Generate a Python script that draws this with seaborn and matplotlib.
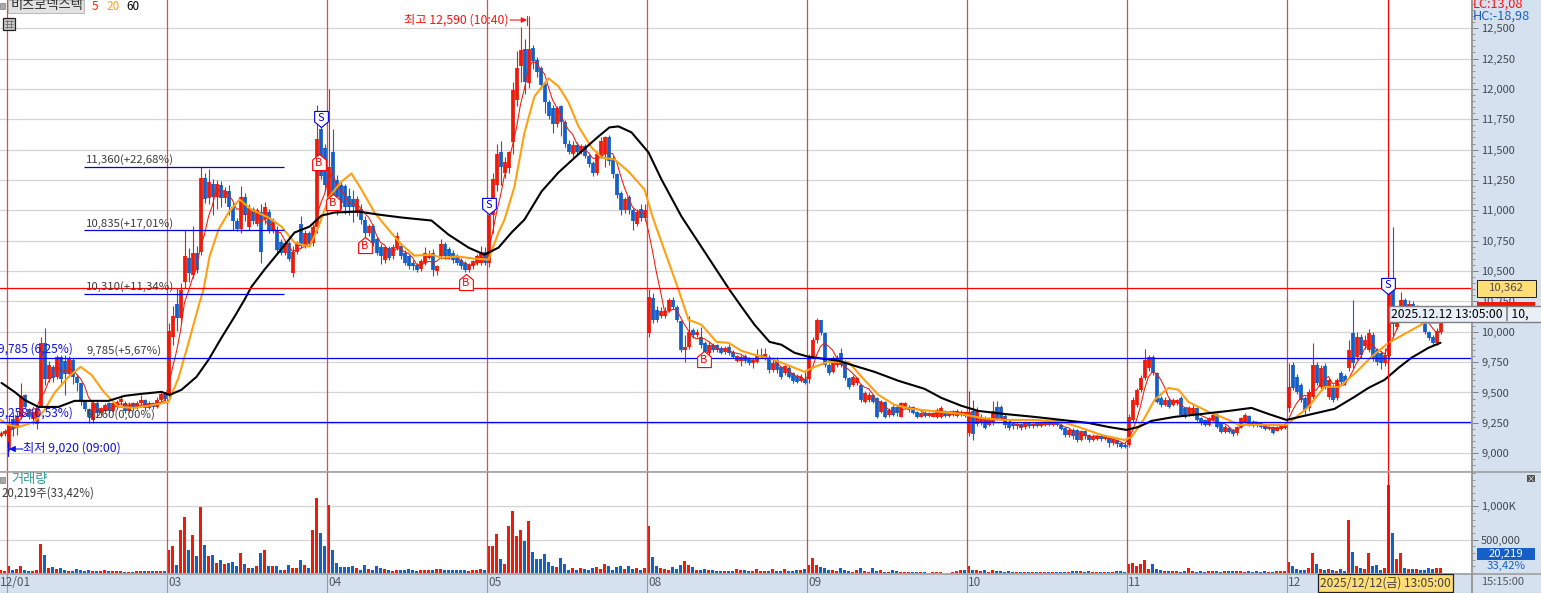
import numpy as np
import pandas as pd
import seaborn as sns
import matplotlib.pyplot as plt
from matplotlib.patches import Rectangle
from matplotlib.ticker import FuncFormatter, MultipleLocator

# values, one slot = 4 px, 40 slots per trading day
pre_open = [9130, 9150]
pre_close = [9150, 9170]
pre_high = [9170, 9190]
pre_low = [9120, 9130]
pre_vol = [50, 25]

# 12/01
d1_open = [9030,9270,9200,9290,9470,9350,9270,9230,9380,9900, 9600,9700,9620,9780,9750,9640,9760,9620,9570,9420, 9350,9260,9400,9320,9340,9400,9340,9370,9410,9400, 9340,9400,9360,9400,9430,9360,9400,9370,9430,9480]
d1_close = [9230,9190,9300,9460,9370,9290,9330,9350,9900,9600, 9720,9610,9780,9600,9640,9770,9620,9570,9420,9350, 9290,9400,9320,9360,9390,9340,9400,9410,9440,9340, 9390,9360,9400,9430,9360,9400,9370,9430,9480,9440]
d1_high = [9290,9330,9330,9570,9480,9360,9340,9360,9950,10020, 9750,9720,9800,9800,9800,9790,9770,9640,9440,9430, 9360,9420,9420,9370,9400,9410,9420,9430,9470,9420, 9410,9410,9420,9470,9440,9420,9410,9450,9500,9490]
d1_low = [9010,9130,9140,9270,9360,9270,9230,9190,9370,9550, 9580,9580,9600,9570,9470,9620,9560,9500,9390,9340, 9240,9240,9300,9290,9320,9320,9330,9350,9390,9320, 9330,9340,9350,9390,9340,9350,9350,9360,9420,9420]
d1_vol = [100,50,60,100,40,25,25,40,440,275, 75,85,60,75,40,25,35,60,40,35, 40,25,25,35,40,25,25,35,25,20, 20,20,30,25,25,25,25,30,30,30]

# 12/03
d2_open = [9470,9950,10220,10100,10400,10600,10460,10640,10650,11260, 11090,11210,11100,11200,11090,11150,11020,10900,10840,11100, 10850,11000,10880,10980,10920,10980,10820,10830,10730,10640, 10720,10470,10650,10880,10700,10800,10720,10850,11660,11500]
d2_close = [10000,10120,10100,10330,10610,10470,10640,10500,11260,11080, 11220,11100,11210,11090,11150,11020,10900,10840,11100,10950, 11010,10900,10990,10650,11020,10820,10900,10660,10640,10720, 10590,10650,10720,10700,10800,10720,10850,11580,11270,11200]
d2_high = [10060,10200,10350,10390,10830,10680,10860,10700,11350,11300, 11330,11250,11240,11230,11180,11200,11050,10930,11190,11130, 11040,11020,11010,11040,11060,11000,10930,10860,10750,10740, 10740,10700,10740,10940,10830,10820,10880,11860,11700,11540]
d2_low = [9430,9880,10000,10050,10350,10400,10430,10470,10620,11050, 11040,10950,11000,11020,11050,10950,10830,10820,10800,10900, 10830,10880,10860,10560,10880,10800,10800,10640,10620,10620, 10570,10440,10630,10680,10680,10700,10700,10800,11250,11150]
d2_vol = [350,410,125,640,840,350,575,250,990,425, 260,275,150,190,140,150,165,100,300,140, 75,75,100,300,350,100,110,110,40,50, 125,75,75,190,115,75,640,1125,600,410]

# 12/04
d3_open = [11100,11470,11240,11200,11190,11110,11080,10970,11000,10910, 10800,10860,10750,10690,10580,10680,10610,10680,10700,10640, 10610,10560,10540,10510,10560,10600,10640,10490,10610,10710, 10670,10640,10610,10580,10560,10500,10530,10560,10560,10650]
d3_close = [11350,11090,11100,11050,11020,11020,11020,11080,10910,10800, 10860,10720,10640,10610,10690,10600,10690,10780,10610,10560, 10530,10530,10500,10570,10640,10610,10500,10530,10710,10610, 10610,10580,10560,10530,10500,10540,10570,10610,10650,10560]
d3_high = [11990,11660,11280,11230,11210,11170,11160,11110,11040,10940, 10880,10880,10770,10710,10700,10700,10710,10810,10720,10660, 10620,10580,10560,10590,10690,10660,10670,10540,10750,10730, 10690,10660,10630,10600,10570,10560,10580,10630,10700,10690]
d3_low = [11050,11000,10950,11000,10960,10950,10890,10940,10880,10770, 10780,10700,10620,10550,10560,10580,10590,10660,10590,10540, 10510,10500,10480,10490,10540,10590,10450,10460,10590,10590, 10590,10560,10540,10510,10480,10480,10510,10540,10540,10540]
d3_vol = [1025,340,150,85,85,85,110,75,50,125, 60,50,100,75,60,40,35,40,40,40, 60,40,35,40,40,40,50,60,60,40, 40,40,40,50,50,35,40,50,60,40]

# 12/05
d4_open = [10560,10950,11200,11470,11300,11340,11550,11900,12180,12320, 12040,12330,12230,12160,12030,11880,11830,11700,11850,11720, 11540,11450,11530,11470,11520,11440,11380,11300,11440,11450, 11590,11420,11290,11130,10990,11100,10990,10880,11000,10930]
d4_close = [10950,11250,11450,11350,11390,11470,11980,12160,12310,12050, 12320,12220,12130,12020,11880,11770,11700,11830,11720,11540, 11470,11530,11470,11520,11440,11370,11300,11450,11560,11590, 11400,11290,11120,10990,11080,10990,10900,10980,10930,10990]
d4_high = [11000,11300,11540,11560,11430,11480,12050,12300,12500,12400, 12590,12350,12250,12180,12050,11900,11860,11850,11860,11730, 11570,11560,11550,11540,11540,11450,11400,11480,11590,11600, 11610,11440,11300,11150,11100,11120,11010,11000,11040,11040]
d4_low = [10520,10800,11150,11200,11260,11300,11450,11850,12050,11950, 12000,12150,12090,11990,11790,11740,11630,11680,11600,11510, 11450,11430,11450,11450,11420,11350,11270,11280,11420,11350, 11360,11260,11090,10950,10970,10960,10830,10860,10900,10900]
d4_vol = [400,400,580,215,130,700,925,550,640,475, 775,310,205,210,280,160,100,90,220,140, 50,70,50,70,55,50,70,85,55,130, 110,40,85,100,55,110,55,70,40,70]

# 12/08
d5_open = [9980,10267,10170,10120,10121,10165,10253,10198,10075,9841, 9868,10006,9965,9951,9896,9813,9880,9880,9860,9827, 9863,9827,9753,9753,9791,9772,9731,9745,9786,9772, 9786,9676,9758,9698,9648,9690,9648,9626,9588,9599]
d5_close = [10280,10089,10090,10165,10165,10253,10198,10089,9841,9868, 9992,9965,9992,9882,9827,9882,9840,9840,9819,9855, 9813,9786,9791,9786,9753,9736,9758,9800,9800,9810, 9676,9736,9676,9621,9709,9621,9588,9580,9616,9571]
d5_high = [10340,10310,10200,10190,10190,10270,10280,10210,10090,9960, 10116,10020,10010,10033,9910,9910,9900,9890,9870,9870, 9890,9840,9800,9800,9810,9785,9770,9850,9860,9860, 9800,9780,9780,9710,9720,9710,9660,9640,9640,9660]
d5_low = [9950,10060,10070,10100,10100,10150,10180,10070,9820,9745, 9850,9940,9950,9860,9800,9790,9820,9820,9810,9810, 9800,9770,9740,9710,9730,9720,9690,9730,9770,9760, 9650,9660,9650,9600,9630,9610,9570,9570,9580,9560]
d5_vol = [700,235,100,70,55,40,85,55,115,175, 115,85,40,40,55,40,40,25,25,25, 25,25,55,40,40,25,25,55,25,25, 25,55,25,25,55,25,25,40,40,55]

# 12/09
d6_open = [9600,9786,9924,10083,9979,9717,9662,9717,9814,9745, 9607,9552,9567,9552,9415,9429,9470,9442,9332,9415, 9305,9374,9374,9291,9368,9346,9368,9332,9291,9324, 9297,9291,9286,9291,9332,9297,9305,9297,9305,9319]
d6_close = [9786,9924,10083,9979,9717,9648,9772,9772,9717,9607, 9533,9616,9607,9429,9483,9470,9415,9291,9415,9291, 9346,9305,9319,9401,9401,9374,9319,9291,9319,9297, 9324,9319,9346,9360,9297,9324,9332,9341,9332,9297]
d6_high = [9810,9950,10100,10090,9990,9730,9790,9800,9860,9760, 9620,9630,9620,9560,9500,9490,9480,9450,9430,9420, 9360,9390,9385,9410,9410,9385,9380,9340,9330,9335, 9330,9330,9360,9375,9345,9335,9345,9350,9345,9330]
d6_low = [9570,9770,9900,9960,9700,9630,9650,9700,9700,9590, 9520,9540,9550,9410,9400,9410,9400,9280,9320,9280, 9290,9295,9300,9285,9350,9330,9310,9280,9285,9285, 9285,9285,9280,9280,9290,9290,9295,9290,9295,9285]
d6_vol = [115,220,115,85,70,40,40,25,70,40, 25,15,40,70,25,15,70,25,40,15, 15,40,25,10,10,20,20,10,20,10, 5,20,20,15,5,5,15,25,40,40]

# 12/10
d7_open = [9160,9340,9230,9240,9270,9225,9240,9370,9370,9300, 9250,9230,9210,9230,9205,9240,9215,9240,9215,9225, 9245,9225,9260,9225,9195,9140,9185,9180,9100,9175, 9140,9100,9110,9135,9105,9115,9075,9100,9070,9060]
d7_close = [9330,9150,9340,9290,9200,9270,9340,9270,9280,9220, 9200,9210,9230,9200,9240,9210,9230,9215,9240,9245, 9225,9255,9225,9190,9140,9185,9130,9100,9170,9130, 9100,9135,9130,9105,9130,9075,9105,9065,9045,9040]
d7_high = [9500,9430,9370,9310,9300,9290,9420,9420,9390,9310, 9260,9240,9250,9240,9250,9250,9250,9250,9255,9260, 9255,9270,9270,9235,9205,9195,9195,9190,9180,9185, 9150,9145,9140,9145,9140,9125,9115,9110,9085,9070]
d7_low = [9130,9100,9210,9220,9190,9210,9220,9260,9260,9200, 9180,9190,9190,9180,9190,9200,9200,9205,9205,9215, 9215,9215,9215,9180,9120,9125,9110,9080,9090,9110, 9085,9090,9095,9090,9095,9040,9060,9040,9030,9030]
d7_vol = [100,50,40,25,40,10,40,25,25,20, 25,20,15,10,15,15,10,10,15,10, 10,10,10,15,10,10,25,25,25,20, 25,20,15,15,20,15,20,25,30,20]

# 12/11
d8_open = [9058,9264,9388,9511,9608,9690,9786,9649,9443,9388, 9429,9388,9402,9443,9360,9313,9305,9360,9278,9264, 9223,9264,9305,9236,9168,9195,9182,9154,9209,9250, 9297,9250,9242,9236,9223,9187,9203,9176,9187,9195]
d8_close = [9291,9429,9511,9608,9759,9786,9649,9415,9388,9429, 9374,9429,9429,9305,9292,9360,9360,9264,9236,9223, 9278,9305,9209,9168,9209,9168,9148,9209,9278,9305, 9223,9214,9214,9203,9187,9209,9160,9203,9214,9223]
d8_high = [9310,9450,9530,9630,9847,9800,9800,9660,9460,9450, 9445,9445,9440,9460,9370,9375,9385,9370,9285,9275, 9285,9315,9320,9245,9220,9205,9190,9215,9285,9320, 9305,9260,9250,9245,9230,9215,9210,9210,9220,9235]
d8_low = [9045,9250,9370,9495,9590,9670,9630,9400,9370,9375, 9360,9375,9390,9295,9280,9300,9295,9255,9225,9215, 9215,9255,9200,9155,9155,9160,9135,9140,9200,9240, 9215,9205,9205,9195,9180,9180,9150,9170,9180,9190]
d8_vol = [130,145,100,130,190,55,130,55,40,25, 25,25,25,10,25,70,25,10,25,15, 25,25,25,10,25,25,25,25,25,15, 25,10,25,15,25,10,10,25,25,25]

# 12/12, stops at 13:05
d9_open = [9360,9718,9621,9553,9443,9360,9456,9718,9539,9704, 9456,9539,9443,9649,9622,9690,9979,9786,9951,9870, 9840,9965,9841,9814,9731,9790,10380,10030,10120,10250, 10100,10220,10120,10180,10064,9990,9950,9900,9990]
d9_close = [9539,9525,9498,9429,9347,9498,9718,9566,9690,9539, 9594,9429,9594,9580,9566,9841,9731,9951,9800,9925, 9979,9773,9745,9731,9800,10320,10050,10130,10250,10100, 10220,10120,10190,10080,9990,9940,9900,10000,10110]
d9_high = [9731,9740,9640,9570,9460,9520,9896,9740,9720,9730, 9610,9560,9610,9670,9640,9925,10254,9990,9970,9960, 10010,9990,9860,9830,9860,10380,10850,10180,10320,10270, 10254,10240,10210,10200,10080,10000,9960,10020,10130]
d9_low = [9330,9510,9480,9410,9310,9340,9440,9550,9520,9520, 9440,9410,9425,9560,9550,9670,9690,9760,9770,9850, 9820,9750,9720,9680,9710,9760,9950,10010,10100,10080, 10080,10100,10100,10060,9970,9920,9880,9880,9970]
d9_vol = [165,100,65,50,50,70,295,140,55,50, 55,40,25,55,30,790,310,110,80,55, 295,100,115,50,80,1315,595,205,295,80, 55,55,55,40,40,70,55,70,70]

# moving averages read as points along the curves (slot number, price)
ma20_slot = [-2,0,2.5,6.5,9,11.5,15,18,20.75,24,27.5,31.5,35,40,42.5,45,47.75,48.75,50.25,52.5,55,57.75,60.75,65,68.25,71.5,75.25,77.5,80.25,83.25,85.75,88.25,91.5,95,98.25,101.5,105.75,108.25,112.5,116.5,120,122.5,124,126.5,129,131.5,135,137.5,140,142.5,145.75,148.25,151.5,155,159,161.25,167.5,170,173.25,177,180,183.25,186.5,190.75,194,199,201.5,205,210,213.25,217.5,221.5,225.75,230.75,238.25,243.25,248.25,256.5,263.25,267.5,273.25,279,280.75,283.75,286.5,290,292.5,295,300,305,307.5,313.25,319.5,325,329,332.75,337,340.75,345,350,354,357.75]
ma20_price = [9264,9223,9206,9248,9346,9487,9619,9701,9635,9487,9371,9363,9380,9412,9610,9899,10229,10336,10609,10831,10972,11079,10996,10930,10856,10724,10691,10856,11104,11227,11293,11161,10972,10831,10708,10617,10625,10600,10609,10592,10584,10807,10914,11186,11632,11929,12077,12011,11879,11681,11508,11425,11409,11310,11161,10914,10336,10089,10048,9907,9899,9833,9800,9767,9726,9660,9701,9742,9742,9619,9470,9388,9355,9338,9313,9280,9264,9264,9248,9206,9140,9099,9124,9264,9429,9528,9512,9412,9330,9264,9223,9223,9223,9371,9536,9536,9660,9784,9899,9990,10064,10064]
ma60_slot = [-1.75,1.5,4,7.5,12.5,16.5,25,29,33.25,38.25,40.25,43.25,47,50,53.25,56.5,59,60.75,64,67.5,71.5,75.25,78.25,81.5,87.5,92.5,98.25,105.75,110,115,119,122.5,125.75,129,133.25,137.5,143.25,147.5,150.25,152.5,155.75,160,163.25,168.25,180.25,183.25,186.5,190.25,193.25,196.5,200,207.5,211.5,216.5,222.5,229,233.25,238.25,242.5,249,256.5,263.25,270,275,279.5,282.5,285.75,291.5,298.25,305,310.75,315,319.5,331.5,336.5,340,344,347.5,350.75,355,358]
ma60_price = [9569,9495,9429,9371,9371,9421,9421,9462,9479,9495,9470,9512,9619,9759,9941,10114,10254,10361,10502,10642,10807,10856,10947,10972,10980,10955,10931,10906,10790,10683,10625,10683,10807,10914,11145,11302,11475,11599,11673,11681,11632,11467,11244,10939,10336,10196,10048,9907,9883,9817,9784,9751,9710,9660,9586,9520,9445,9380,9338,9313,9289,9264,9239,9206,9182,9206,9256,9289,9313,9338,9363,9313,9264,9355,9454,9528,9594,9693,9776,9858,9899]

day_starts = [0, 40, 80, 120, 160, 200, 240, 280, 320]
day_labels = ['12/01', '03', '04', '05', '08', '09', '10', '11', '12']
level_prices = [11360, 10835, 10310]
level_labels = ['11,360(+22,68%)', '10,835(+17,01%)', '10,310(+11,34%)']
full_levels = [9785, 9260]
cross_price = 10362
cross_slot = 344.75
buy_slots = [77.5, 81, 89, 114.25, 173.75]
buy_prices = [11401, 11071, 10716, 10411, 9776]
sell_slots = [78, 120, 344.75]
sell_prices = [11756, 11038, 10378]

RED = '#ee1a0a'
BLUE = '#1560c8'
PANEL = '#d5e1ef'
W, H = 1541, 593

sns.set_theme(style='white')
plt.rcParams['font.family'] = ['Noto Sans CJK KR', 'DejaVu Sans']

opens = np.array(pre_open + d1_open + d2_open + d3_open + d4_open + d5_open + d6_open + d7_open + d8_open + d9_open) + 10
closes = np.array(pre_close + d1_close + d2_close + d3_close + d4_close + d5_close + d6_close + d7_close + d8_close + d9_close) + 10
highs = np.array(pre_high + d1_high + d2_high + d3_high + d4_high + d5_high + d6_high + d7_high + d8_high + d9_high) + 10
lows = np.array(pre_low + d1_low + d2_low + d3_low + d4_low + d5_low + d6_low + d7_low + d8_low + d9_low) + 10
volumes = pre_vol + d1_vol + d2_vol + d3_vol + d4_vol + d5_vol + d6_vol + d7_vol + d8_vol + d9_vol
slots = np.arange(-2, len(opens) - 2)

df = pd.DataFrame({'slot': slots, 'open': opens, 'close': closes, 'high': highs, 'low': lows,
                   'volume': np.array(volumes) * 1000})
df['up'] = df['close'] >= df['open']
df['color'] = df['up'].map({True: RED, False: BLUE})
# the 5 line is the plain moving average of the closes
df['ma5'] = df['close'].rolling(5, min_periods=1).mean()

fig = plt.figure(figsize=(W / 100, H / 100), dpi=100, facecolor=PANEL)

def box(x0, y0, x1, y1):
    return [x0 / W, 1 - y1 / H, (x1 - x0) / W, (y1 - y0) / H]

x_lim = ((0 - 8.5) / 4, (1472 - 8.5) / 4)

# price panel
ax = fig.add_axes(box(0, 0, 1472, 471), facecolor='white')
ax.vlines(df['slot'], df['low'], df['high'], colors=df['color'], lw=0.8, zorder=3)
ax.vlines(df['slot'], df['open'], df['close'], colors=df['color'], lw=2.7, zorder=3.1)
sns.lineplot(data=df, x='slot', y='ma5', color=RED, lw=0.75, errorbar=None, ax=ax, zorder=4)
sns.lineplot(x=ma20_slot, y=np.array(ma20_price) + 10, color='#ffa010', lw=1.5, errorbar=None, sort=False, ax=ax, zorder=4.2)
sns.lineplot(x=ma60_slot, y=np.array(ma60_price) + 10, color='black', lw=1.5, errorbar=None, sort=False, ax=ax, zorder=4.4)

for i, d in enumerate(day_starts):
    ax.axvline(d - 0.3, color='#e24a4a' if i < 5 else '#c44e50', lw=0.9, zorder=2)
ax.axvline(cross_slot, color='#ff0000', lw=0.9, zorder=5)
ax.axhline(cross_price, color='#ff0000', lw=0.9, zorder=5)
for p in full_levels:
    ax.axhline(p, color='#0000f0', lw=0.9, zorder=5)
ax.hlines(level_prices, (84 - 8.5) / 4, (284 - 8.5) / 4, color='#0000d8', lw=0.9, zorder=5)

# signal markers
down_tag = [(-0.85, 1), (0.85, 1), (0.85, -0.3), (0, -1), (-0.85, -0.3), (-0.85, 1)]
up_tag = [(-0.85, -1), (0.85, -1), (0.85, 0.3), (0, 1), (-0.85, 0.3), (-0.85, -1)]
ax.scatter(sell_slots, sell_prices, marker=down_tag, s=135, facecolor='white', edgecolor='#0000e0', lw=0.8, zorder=6)
ax.scatter(buy_slots, buy_prices, marker=up_tag, s=135, facecolor='white', edgecolor='#ff0000', lw=0.8, zorder=6)
for sx, sy in zip(sell_slots, sell_prices):
    ax.text(sx, sy + 8, 'S', color='#0000e0', fontsize=8, ha='center', va='center', zorder=7)
for bx, by in zip(buy_slots, buy_prices):
    ax.text(bx, by - 8, 'B', color='#ff0000', fontsize=8, ha='center', va='center', zorder=7)

ax.set_xlim(x_lim)
ax.set_ylim(9000 - 17.8 * 8.235, 9000 + 453.2 * 8.235)
ax.yaxis.tick_right()
ax.yaxis.set_major_locator(MultipleLocator(250))
ax.yaxis.set_minor_locator(MultipleLocator(50))
ax.yaxis.set_major_formatter(FuncFormatter(lambda v, _: f'{int(v):,}'))
ax.tick_params(axis='y', which='major', right=True, length=4.5, width=0.7, color='#808080', labelsize=8, labelcolor='#404850', pad=2)
ax.tick_params(axis='y', which='minor', right=True, length=2, width=0.7, color='#909090')
ax.grid(axis='y', which='major', color='#d4d4d4', lw=0.9, zorder=1)
ax.set_axisbelow(True)
ax.set_xticks([])
ax.set_xlabel('')
ax.set_ylabel('')
for s in ax.spines.values():
    s.set_visible(False)

# volume panel
ax2 = fig.add_axes(box(0, 472, 1472, 573), facecolor='white')
sns.barplot(data=df, x='slot', y='volume', hue='up', palette={True: RED, False: BLUE}, native_scale=True,
            dodge=False, width=0.85, saturation=1, errorbar=None, legend=False, linewidth=0, ax=ax2, zorder=3)
for i, d in enumerate(day_starts):
    ax2.axvline(d - 0.3, color='#e24a4a' if i < 5 else '#c44e50', lw=0.9, zorder=4)
ax2.axvline(cross_slot, color='#ff0000', lw=0.9, zorder=5)
ax2.set_xlim(x_lim)
ax2.set_ylim(0, 101 * 15000)
ax2.yaxis.tick_right()
ax2.set_yticks([500000, 1000000], ['500,000', '1,000K'])
ax2.yaxis.set_minor_locator(MultipleLocator(100000))
ax2.tick_params(axis='y', which='major', right=True, length=4.5, width=0.7, color='#808080', labelsize=8, labelcolor='#404850', pad=2)
ax2.tick_params(axis='y', which='minor', right=True, length=2, width=0.7, color='#909090')
ax2.grid(axis='y', which='major', color='#d4d4d4', lw=0.9, zorder=1)
ax2.set_axisbelow(True)
ax2.set_xticks([])
ax2.set_xlabel('')
ax2.set_ylabel('')
for s in ax2.spines.values():
    s.set_visible(False)

# everything else sits on a pixel overlay
ov = fig.add_axes([0, 0, 1, 1])
ov.set_xlim(0, W)
ov.set_ylim(H, 0)
ov.axis('off')

def label(x, y, s, color='#3c3c3c', size=8, ha='left', **kw):
    ov.text(x, y, s, color=color, fontsize=size, ha=ha, va='center', **kw)

def rect(x0, y0, x1, y1, face, edge='none', lw=0.8, z=3):
    ov.add_patch(Rectangle((x0, y0), x1 - x0, y1 - y0, facecolor=face, edgecolor=edge, lw=lw, zorder=z))

for yy in [471.5, 573.5]:
    ov.plot([0, W], [yy, yy], color='#9a9a9a', lw=1.1)
ov.plot([1472, 1472], [0, H], color='#9a9a9a', lw=1.4)
ov.plot([0, W], [592.5, 592.5], color='#9a9a9a', lw=0.8)
for d, name in zip(day_starts, day_labels):
    px = 8.5 + 4 * (d - 0.3)
    ov.plot([px, px], [574, 592], color='#9a9a9a', lw=0.8)
    label(0 if name == '12/01' else px + 1, 582, name, color='#505860', size=8.5)

# header
rect(0, 3, 5, 9, '#a8a8a8', '#808080', 0.5)
rect(8, 0, 84, 13, '#e2e2e2', '#b8b8b8', 0.7)
label(11, 6, '비츠로넥스텍', color='#303030', size=9.5, zorder=4)
label(92, 6, '5', color='#ff2000', size=8.5)
label(106, 6, '20', color='#ffa010', size=8.5)
label(126, 6, '60', color='black', size=8.5)
rect(3, 18, 15, 30, '#c8c8c8', '#202020', 0.9)
for gy in [21, 24, 27]:
    ov.plot([5, 13], [gy, gy], color='#606060', lw=0.5, zorder=4)
for gx in [7, 11]:
    ov.plot([gx, gx], [20, 28], color='#606060', lw=0.5, zorder=4)

# level labels
for yy, s in zip([160, 224, 287], level_labels):
    label(86, yy, s, size=8.2)
label(87, 351, '9,785(+5,67%)', size=8.2)
label(87, 415, '9,260(0,00%)', size=8.2)
label(-2, 349, '9,785 (6,25%)', color='#1010e0', size=8.6)
label(-2, 413, '9,258 (0,53%)', color='#1010e0', size=8.6)

# extreme markers
label(404, 20, '최고 12,590 (10:40)', color='#ff1010', size=8.8)
ov.annotate('', xy=(527, 20), xytext=(510, 20), arrowprops=dict(arrowstyle='-|>', color='#ff1010', lw=0.8, mutation_scale=8, shrinkA=0, shrinkB=0))
ov.plot([527, 527], [16, 25], color='#ff1010', lw=0.8)
label(23, 448, '최저 9,020 (09:00)', color='#1010e0', size=8.8)
ov.annotate('', xy=(9, 449), xytext=(23, 449), arrowprops=dict(arrowstyle='-|>', color='#1010e0', lw=0.8, mutation_scale=9, shrinkA=0, shrinkB=0))
ov.plot([8, 8], [442, 456], color='#1010e0', lw=0.8)

# volume header
rect(0, 477, 5, 483, '#a8a8a8', '#808080', 0.5)
label(11, 480, '거래량', color='#2f9a96', size=9.5)
label(2, 493, '20,219주(33,42%)', size=8.3)

# right side readouts
label(1473, 4, 'LC:13,08', color='#ff1010', size=9.2)
label(1473, 16, 'HC:-18,98', color=BLUE, size=9.2)
rect(1477, 280, 1536, 297, '#ffdd77', '#202020', 0.7)
label(1506, 288, '10,362', color='#505050', size=8.2, ha='center', zorder=4)
rect(1477, 302, 1535, 307, RED)
rect(1389, 306, W + 2, 322, '#e8eff8', '#808080', 1.0, z=5)
ov.text(1391, 314, '2025.12.12 13:05:00 | 10,', color='black', fontsize=8.8, ha='left', va='center', zorder=6, clip_on=True)
rect(1527, 475, 1535, 482, '#505050')
label(1531, 478.5, '×', color='white', size=6, ha='center', zorder=4)
rect(1477, 548, 1535, 560, BLUE)
label(1506, 554, '20,219', color='white', size=8.2, ha='center', zorder=4)
label(1506, 566, '33,42%', color=BLUE, size=8.2, ha='center')
rect(1318, 574, 1453, 592, '#ffdd77', '#202020', 0.9)
label(1385, 583, '2025/12/12(금) 13:05:00', color='#404040', size=8.6, ha='center', zorder=4)
label(1503, 582, '15:15:00', color='#505860', size=8, ha='center')

fig.savefig('out.png', dpi=100)
